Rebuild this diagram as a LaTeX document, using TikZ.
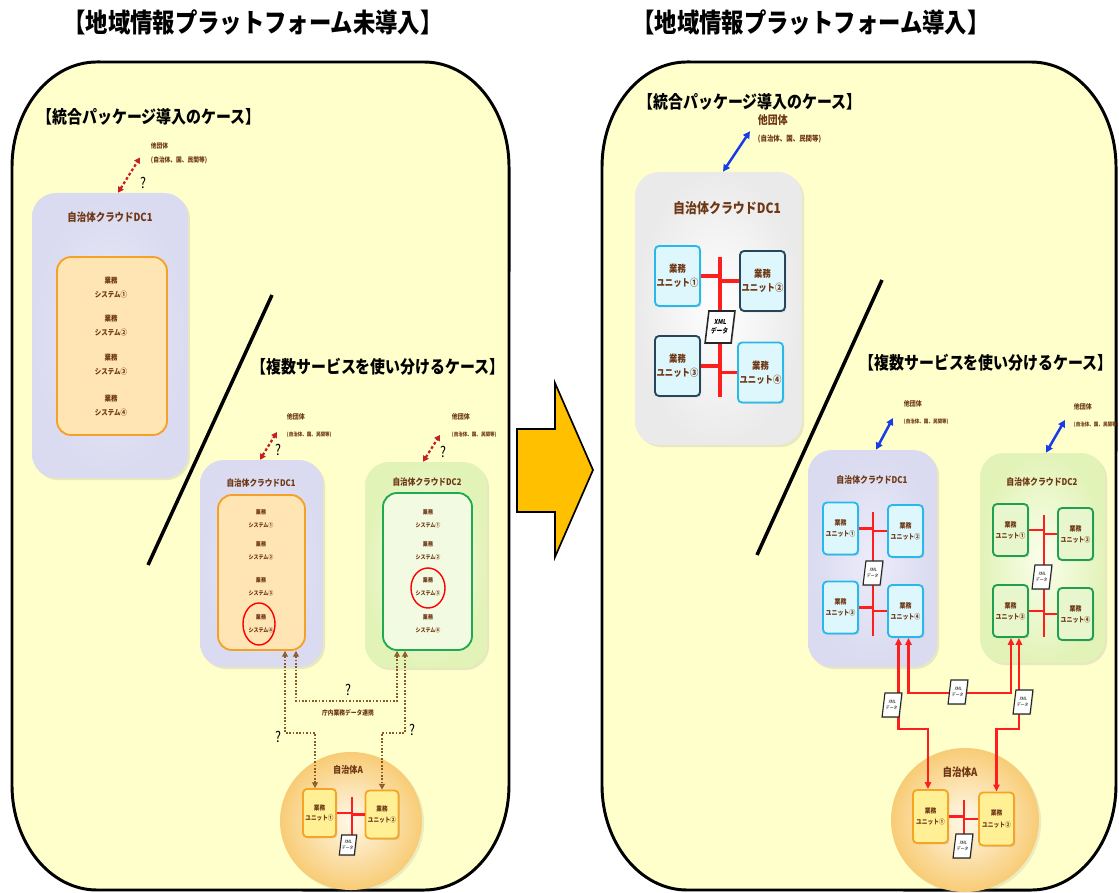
\documentclass[tikz,border=0pt]{standalone}
\usepackage{fontspec}
\newfontfamily\jp{Noto Sans CJK JP}[FakeStretch=0.85]
\usetikzlibrary{positioning,fit,calc,arrows.meta,shadows,shapes.geometric}

\definecolor{panelyellow}{RGB}{255,255,204}
\definecolor{labelbrown}{RGB}{110,55,20}
\definecolor{lavin}{RGB}{236,236,250}
\definecolor{lavout}{RGB}{218,218,240}
\definecolor{greenin}{RGB}{250,254,236}
\definecolor{greenout}{RGB}{226,243,184}
\definecolor{grayout}{RGB}{234,234,234}
\definecolor{sysfill}{RGB}{255,228,180}
\definecolor{sysline}{RGB}{245,160,40}
\definecolor{sysgreenfill}{RGB}{242,251,226}
\definecolor{sysgreenline}{RGB}{30,170,80}
\definecolor{cyanfill}{RGB}{222,247,252}
\definecolor{cyanline}{RGB}{40,185,235}
\definecolor{navyline}{RGB}{40,70,90}
\definecolor{unitgreenfill}{RGB}{232,246,205}
\definecolor{unitgreenline}{RGB}{30,160,80}
\definecolor{unityellow}{RGB}{255,240,150}
\definecolor{unityellowline}{RGB}{245,165,35}
\definecolor{ellin}{RGB}{255,249,234}
\definecolor{ellout}{RGB}{248,204,118}
\definecolor{busred}{RGB}{255,30,30}
\definecolor{dotred}{RGB}{200,30,40}
\definecolor{linkblue}{RGB}{25,60,230}
\definecolor{dotbrown}{RGB}{140,90,40}
\definecolor{arroworange}{RGB}{255,192,0}

\newcommand\jsz[2]{\fontsize{#1}{#2}\selectfont\jp\bfseries}

\begin{document}
\begin{tikzpicture}[x=0.025cm, y=-0.025cm,
panel/.style={draw=black, line width=2.1pt, fill=panelyellow},
maintitle/.style={font={\jsz{18.7}{20}}},
casetitle/.style={font={\jsz{12.5}{14}}},
dctitle/.style={text=labelbrown},
dcbox/.style={rounded corners=0.6cm, inner sep=0pt, drop shadow={opacity=0.18, shadow xshift=1.5pt, shadow yshift=-1.5pt}},
sysbox/.style={rounded corners=0.35cm, inner sep=0pt, line width=1.3pt},
systext/.style={align=center, text=labelbrown},
unitbox/.style={rectangle, rounded corners=0.1cm, line width=1.3pt, align=center, inner sep=0pt, text=labelbrown, drop shadow={opacity=0.22, shadow xshift=1pt, shadow yshift=-1pt}},
bigsize/.style={minimum width=1.125cm, minimum height=1.5cm, font={\jsz{7}{10}}},
smallsize/.style={minimum width=0.875cm, minimum height=1.3cm, font={\jsz{5}{8}}},
cyanunit/.style={unitbox, draw=cyanline, fill=cyanfill},
greenunit/.style={unitbox, draw=unitgreenline, fill=unitgreenfill},
yellowunit/.style={unitbox, draw=unityellowline, fill=unityellow},
xmldoc/.style={draw=black!85, fill=white, line width=0.8pt, xslant=0.12, align=center, inner sep=0pt, minimum width=0.425cm, minimum height=0.6cm, font={\fontsize{3.2}{4.5}\selectfont\jp}, drop shadow={opacity=0.25, shadow xshift=0.8pt, shadow yshift=-0.8pt}},
otherlabel/.style={anchor=north west, align=left, text=labelbrown},
qmark/.style={font={\fontsize{10.5}{10.5}\selectfont\jp}},
ellbox/.style={ellipse, inner color=ellin, outer color=ellout, drop shadow={opacity=0.15, shadow xshift=1.5pt, shadow yshift=-1.5pt}},
bus/.style={busred, line width=2.8pt},
smallbus/.style={busred, line width=2pt},
reddot/.style={dotred, line width=1.6pt, dash pattern=on 2pt off 1.6pt, {Triangle[length=4pt,width=4.5pt]}-{Triangle[length=4pt,width=4.5pt]}},
bluelink/.style={linkblue, line width=1.8pt, {Triangle[length=5pt,width=5pt]}-{Triangle[length=5pt,width=5pt]}},
browndot/.style={dotbrown, line width=1.1pt, dash pattern=on 1.2pt off 1.2pt, {Triangle[open,length=4pt,width=4pt]}-{Triangle[open,length=4pt,width=4pt]}},
redlink/.style={busred, line width=1.5pt, {Triangle[length=5pt,width=4.5pt]}-{Triangle[length=5pt,width=4.5pt]}},
divider/.style={black, line width=2.5pt},
bigarrow/.style={fill=arroworange, draw=black, line width=1.2pt, line join=miter},
]
\useasboundingbox (0,0) rectangle (1119,893);

%Panels
\draw[panel] (97,62) -- (424,62) arc[start angle=90, end angle=0, x radius=2.125cm, y radius=2.625cm]
  -- (509,785) arc[start angle=0, end angle=-90, x radius=2.125cm, y radius=2.625cm]
  -- (97,890) arc[start angle=-90, end angle=-180, x radius=2.125cm, y radius=2.625cm]
  -- (12,167) arc[start angle=180, end angle=90, x radius=2.125cm, y radius=2.625cm] -- cycle;
\draw[panel] (687,62) -- (1031,62) arc[start angle=90, end angle=0, x radius=2.125cm, y radius=2.625cm]
  -- (1116,785) arc[start angle=0, end angle=-90, x radius=2.125cm, y radius=2.625cm]
  -- (687,890) arc[start angle=-90, end angle=-180, x radius=2.125cm, y radius=2.625cm]
  -- (602,167) arc[start angle=180, end angle=90, x radius=2.125cm, y radius=2.625cm] -- cycle;
\draw[bigarrow] (517,429) -- (555,429) -- (555,383) -- (593,470) -- (555,557) -- (555,512) -- (517,512) -- cycle;
\draw[divider] (272,295) -- (148,565);
\draw[divider] (882,280) -- (757,555);

%Titles
\node[maintitle] (ltitle) at (253,22) {【地域情報プラットフォーム未導入】};
\node[maintitle] (rtitle) at (811,22) {【地域情報プラットフォーム導入】};
\node[casetitle] (lcase1) at (149,117) {【統合パッケージ導入のケース】};
\node[casetitle] (lcase2) at (378,367) {【複数サービスを使い分けるケース】};
\node[casetitle] (rcase1) at (750,102) {【統合パッケージ導入のケース】};
\node[casetitle] (rcase2) at (986,363) {【複数サービスを使い分けるケース】};

%Left: package case
\node[dcbox, inner color=lavin, outer color=lavout, fit={(32,193) (188,478)}] (ldc) {};
\node[dctitle, font={\jsz{7.9}{9}}] (ldctitle) at (110,217) {自治体クラウドDC1};
\node[sysbox, draw=sysline, fill=sysfill, fit={(57,257) (167,435)}] (ldcin) {};
\foreach \i/\y/\t in {1/287.5/①, 2/325.5/②, 3/364.5/③, 4/405.5/④}
  \node[systext, font={\jsz{5.4}{10.5}}] (lsys\i) at (111,\y) {業務\\システム\t};
\node[otherlabel, font={\jsz{4.8}{10}}] (lother) at (146,138) {他団体\\(自治体、国、民間等)};
\draw[reddot] ($(ldc.north)+(8,0)$) -- ($(lother.west)+(-6,4)$);
\node[qmark] (lq1) at (143,183) {?};

%Left: multi service case
\node[dcbox, inner color=lavin, outer color=lavout, fit={(200,460) (323,667)}] (sdc1) {};
\node[dctitle, font={\jsz{6.4}{8}}] (sdc1title) at (261,483) {自治体クラウドDC1};
\node[sysbox, draw=sysline, fill=sysfill, fit={(218,495) (305,650)}] (sdc1in) {};
\node[dcbox, inner color=greenin, outer color=greenout, fit={(365,462) (487,668)}] (sdc2) {};
\node[dctitle, font={\jsz{6.4}{8}}] (sdc2title) at (427,482) {自治体クラウドDC2};
\node[sysbox, draw=sysgreenline, fill=sysgreenfill, fit={(383,493) (472,650)}] (sdc2in) {};
\foreach \i/\y/\t in {1/518.5/①, 2/551/②, 3/586.5/③, 4/624/④} {
  \node[systext, font={\jsz{4.2}{9}}] (s1sys\i) at (261,\y) {業務\\システム\t};
  \node[systext, font={\jsz{4.2}{9}}] (s2sys\i) at (428,\y) {業務\\システム\t};
}
\node[ellipse, draw=red, line width=1pt, minimum width=0.8cm, minimum height=1.05cm] (scircle1) at (259,624) {};
\node[ellipse, draw=red, line width=1pt, minimum width=0.85cm, minimum height=1cm] (scircle2) at (428,588) {};
\node[otherlabel] (sother1) at (282,409) {{\jsz{5}{9}他団体}\\{\jsz{3.8}{9}(自治体、国、民間等)}};
\node[otherlabel] (sother2) at (447,409) {{\jsz{5}{9}他団体}\\{\jsz{3.8}{9}(自治体、国、民間等)}};
\draw[reddot] ($(sdc1.north)+(-1.5,0)$) -- ($(sother1.west)+(-5,6)$);
\draw[reddot] ($(sdc2.north)+(-3,0)$) -- ($(sother2.west)+(-7,9)$);
\node[qmark] (sq1) at (278,450) {?};
\node[qmark] (sq2) at (443,452) {?};

%Left: municipality A
\node[ellbox, minimum width=3.55cm, minimum height=3.45cm] (lA) at (351,821) {};
\node[dctitle, font={\jsz{6.8}{8}}] (lAtitle) at (348,770) {自治体A};
\node[yellowunit, minimum width=0.825cm, minimum height=1.2cm, font={\jsz{4.7}{7.5}}] (laU1) at (319.5,813) {業務\\ユニット①};
\node[yellowunit, minimum width=0.825cm, minimum height=1.2cm, font={\jsz{4.7}{7.5}}] (laU2) at (382,814.5) {業務\\ユニット②};
\coordinate (laBusTop) at (352,797);
\coordinate (laBusBot) at (352,836);
\draw[smallbus] (laBusTop) -- (laBusBot);
\draw[smallbus] (laU1.east) -- (laU1.east -| laBusTop);
\draw[smallbus] (laU2.west) -- (laU2.west -| laBusTop);
\node[xmldoc, minimum width=0.375cm, minimum height=0.5cm] (laxml) at (348,845) {XML\\データ};

%Left: links
\draw[browndot] ($(sdc1in.south)+(23.5,0)$) -- ++(0,82) -| ($(laU1.north)+(-4.5,0)$);
\draw[browndot] ($(sdc1in.south)+(34.5,0)$) -- ++(0,50) -| ($(sdc2in.south)+(-30.5,0)$);
\draw[browndot] ($(sdc2in.south)+(-22.5,0)$) -- ++(0,82) -| (laU2.north);
\node[qmark] (q3) at (348,690) {?};
\node[text=labelbrown, font={\jsz{4.8}{6}}] (datalink) at (348,713) {庁内業務データ連携};
\node[qmark] (q4) at (278,737) {?};
\node[qmark] (q5) at (412,730) {?};

%Right: package case
\node[dcbox, inner color=white, outer color=grayout, fit={(635,172) (802,445)}] (rdc) {};
\node[dctitle, font={\jsz{10}{12}}] (rdctitle) at (727,208) {自治体クラウドDC1};
\node[cyanunit, bigsize] (rbu1) at (677.5,276) {業務\\ユニット①};
\node[cyanunit, bigsize, draw=navyline] (rbu2) at (762.5,281) {業務\\ユニット②};
\node[cyanunit, bigsize, draw=navyline] (rbu3) at (677.5,366) {業務\\ユニット③};
\node[cyanunit, bigsize] (rbu4) at (760.5,372.5) {業務\\ユニット④};
\coordinate (rbBusTop) at (720,257);
\coordinate (rbBusBot) at (720,397);
\draw[bus] (rbBusTop) -- (rbBusBot);
\draw[bus] (rbu1.east) -- (rbu1.east -| rbBusTop);
\draw[bus] (rbu2.west) -- (rbu2.west -| rbBusTop);
\draw[bus] (rbu3.east) -- (rbu3.east -| rbBusTop);
\draw[bus] (rbu4.west) -- (rbu4.west -| rbBusTop);
\node[xmldoc, minimum width=0.65cm, minimum height=0.8cm, line width=1.1pt, font={\fontsize{4.8}{6.5}\selectfont\jp\bfseries}] (rbxml) at (720,327) {XML\\データ};
\node[otherlabel] (rother) at (753,110) {{\jsz{8.3}{10.6}他団体}\\{\jsz{5.4}{10.6}(自治体、国、民間等)}};
\draw[bluelink] ($(rdc.north)+(4.5,0)$) -- ($(rother.west)+(-3,2)$);

%Right: multi service case
\node[dcbox, inner color=lavin, outer color=lavout, fit={(808,450) (937,667)}] (rsdc1) {};
\node[dctitle, font={\jsz{6.6}{8}}] (rsdc1title) at (872,480) {自治体クラウドDC1};
\node[cyanunit, smallsize] (rs1u1) at (840.5,528.5) {業務\\ユニット①};
\node[cyanunit, smallsize] (rs1u2) at (905.5,531) {業務\\ユニット②};
\node[cyanunit, smallsize] (rs1u3) at (840.5,607.5) {業務\\ユニット③};
\node[cyanunit, smallsize] (rs1u4) at (905.5,611) {業務\\ユニット④};
\coordinate (rs1BusTop) at (873,512);
\coordinate (rs1BusBot) at (873,636);
\draw[smallbus] (rs1BusTop) -- (rs1BusBot);
\draw[smallbus] (rs1u1.east) -- (rs1u1.east -| rs1BusTop);
\draw[smallbus] (rs1u2.west) -- (rs1u2.west -| rs1BusTop);
\draw[smallbus] (rs1u3.east) -- (rs1u3.east -| rs1BusTop);
\draw[smallbus] (rs1u4.west) -- (rs1u4.west -| rs1BusTop);
\node[xmldoc] (rs1xml) at (873,573) {XML\\データ};

\node[dcbox, inner color=greenin, outer color=greenout, fit={(980,453) (1105,663)}] (rsdc2) {};
\node[dctitle, font={\jsz{6.6}{8}}] (rsdc2title) at (1042,482) {自治体クラウドDC2};
\node[greenunit, smallsize] (rs2u1) at (1010.5,530) {業務\\ユニット①};
\node[greenunit, smallsize] (rs2u2) at (1075.5,534) {業務\\ユニット②};
\node[greenunit, smallsize] (rs2u3) at (1010.5,611) {業務\\ユニット③};
\node[greenunit, smallsize] (rs2u4) at (1075.5,614) {業務\\ユニット④};
\coordinate (rs2BusTop) at (1044,515);
\coordinate (rs2BusBot) at (1044,637);
\draw[smallbus] (rs2BusTop) -- (rs2BusBot);
\draw[smallbus] (rs2u1.east) -- (rs2u1.east -| rs2BusTop);
\draw[smallbus] (rs2u2.west) -- (rs2u2.west -| rs2BusTop);
\draw[smallbus] (rs2u3.east) -- (rs2u3.east -| rs2BusTop);
\draw[smallbus] (rs2u4.west) -- (rs2u4.west -| rs2BusTop);
\node[xmldoc] (rs2xml) at (1042,577) {XML\\データ};

\node[otherlabel] (rother1) at (899,396) {{\jsz{5}{9}他団体}\\{\jsz{3.8}{9}(自治体、国、民間等)}};
\node[otherlabel] (rother2) at (1069,399) {{\jsz{5}{9}他団体}\\{\jsz{3.8}{9}(自治体、国、民間等)}};
\draw[bluelink] ($(rsdc1.north)+(3.5,0)$) -- ($(rother1.west)+(-6,5)$);
\draw[bluelink] ($(rsdc2.north)+(3.5,0)$) -- ($(rother2.west)+(-4,4)$);

%Right: municipality A
\node[ellbox, minimum width=3.7cm, minimum height=3.6cm] (rA) at (965,820) {};
\node[dctitle, font={\jsz{8}{9}}] (rAtitle) at (960,772) {自治体A};
\node[yellowunit, smallsize, minimum height=1.325cm, font={\jsz{4.8}{8}}] (raU1) at (930.5,816.5) {業務\\ユニット①};
\node[yellowunit, smallsize, minimum height=1.325cm, font={\jsz{4.8}{8}}] (raU2) at (996.5,819) {業務\\ユニット②};
\coordinate (raBusTop) at (964,800);
\coordinate (raBusBot) at (964,836);
\draw[smallbus] (raBusTop) -- (raBusBot);
\draw[smallbus] (raU1.east) -- (raU1.east -| raBusTop);
\draw[smallbus] (raU2.west) -- (raU2.west -| raBusTop);
\node[xmldoc] (raxml) at (963,846) {XML\\データ};

%Right: links
\draw[redlink] ($(rs1u4.south)+(-7,0)$) -- ++(0,91) -| ($(raU1.north)+(-2.5,0)$);
\draw[redlink] ($(rs1u4.south)+(3,0)$) -- ++(0,55) -| ($(rs2u3.south)+(0.5,0)$);
\draw[redlink] ($(rs2u3.south)+(8.5,0)$) -- ++(0,91) -| (raU2.north);
\node[xmldoc] (rlxml1) at (892,705) {XML\\データ};
\node[xmldoc] (rlxml2) at (958,692) {XML\\データ};
\node[xmldoc] (rlxml3) at (1023,702) {XML\\データ};
\end{tikzpicture}
\end{document}
